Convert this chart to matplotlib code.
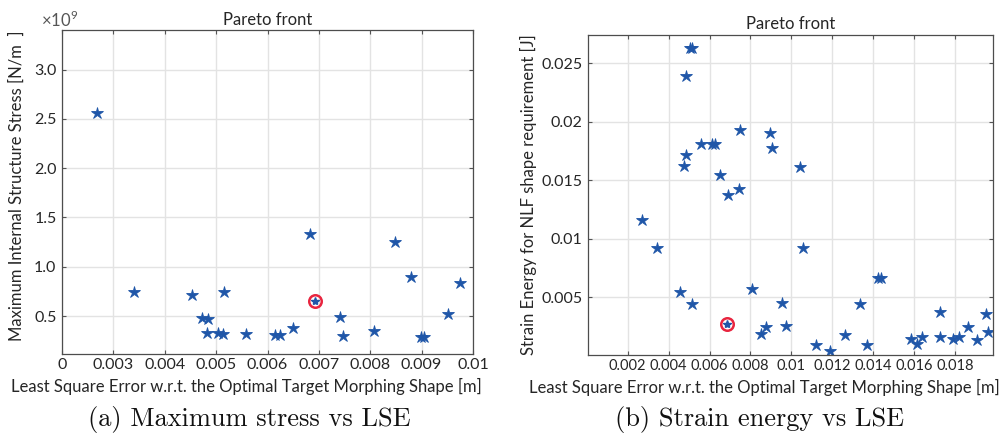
import numpy as np
import matplotlib.pyplot as plt
from matplotlib.ticker import FixedLocator, FixedFormatter

plt.rcParams['font.family'] = ['Lato', 'DejaVu Sans']
plt.rcParams['mathtext.fontset'] = 'custom'
plt.rcParams['mathtext.rm'] = 'Lato'

# (a) LSE [m] vs max stress [x1e9 N/m^2]
lse_a = [0.00268, 0.00340, 0.00454, 0.00472, 0.00485, 0.00483, 0.00504, 0.00513,
         0.00515, 0.00558, 0.00615, 0.00625, 0.00649, 0.00682, 0.00742, 0.00747,
         0.00807, 0.00848, 0.00879, 0.00898, 0.00904, 0.00951, 0.00975]
stress_a = [2.564, 0.747, 0.710, 0.476, 0.466, 0.324, 0.324, 0.318,
            0.740, 0.318, 0.307, 0.307, 0.378, 1.334, 0.486, 0.297,
            0.348, 1.253, 0.892, 0.290, 0.290, 0.524, 0.834]
sel_a = (0.00692, 0.652)

# (b) LSE [m] vs strain energy [J]
lse_b = [0.00268, 0.00342, 0.00454, 0.00514, 0.00474, 0.00487, 0.00483, 0.00506,
         0.00514, 0.00557, 0.00614, 0.00627, 0.00650, 0.00692, 0.00742, 0.00747,
         0.00807, 0.00850, 0.00878, 0.00897, 0.00905, 0.00952, 0.00975, 0.01044,
         0.01057, 0.01122, 0.01189, 0.01264, 0.01337, 0.01370, 0.01426, 0.01439,
         0.01583, 0.01612, 0.01640, 0.01728, 0.01728, 0.01788, 0.01818, 0.01863,
         0.01907, 0.01951, 0.01962]
energy_b = [0.01159, 0.00923, 0.00548, 0.00440, 0.01622, 0.01713, 0.02392, 0.02631,
            0.02631, 0.01813, 0.01810, 0.01810, 0.01548, 0.01378, 0.01426, 0.01932,
            0.00568, 0.00187, 0.00250, 0.01906, 0.01773, 0.00449, 0.00259, 0.01617,
            0.00923, 0.00097, 0.00040, 0.00182, 0.00443, 0.00097, 0.00662, 0.00662,
            0.00148, 0.00100, 0.00159, 0.00375, 0.00162, 0.00145, 0.00159, 0.00247,
            0.00134, 0.00355, 0.00207]
sel_b = (0.00684, 0.00273)

xticks_a = [0.002, 0.003, 0.004, 0.005, 0.006, 0.007, 0.008, 0.009, 0.010]
xlabels_a = ['0', '0.003', '0.004', '0.005', '0.006', '0.007', '0.008', '0.009', '0.01']
yticks_a = [0.5, 1.0, 1.5, 2.0, 2.5, 3.0]
ylabels_a = ['0.5', '1.0', '1.5', '2.0', '2.5', '3.0']
xticks_b = [0.002, 0.004, 0.006, 0.008, 0.010, 0.012, 0.014, 0.016, 0.018]
xlabels_b = ['0.002', '0.004', '0.006', '0.008', '0.01', '0.012', '0.014', '0.016', '0.018']
yticks_b = [0.005, 0.010, 0.015, 0.020, 0.025]
ylabels_b = ['0.005', '0.01', '0.015', '0.02', '0.025']

star_color = '#1f56a8'
ring_color = '#e8253f'
xlabel = 'Least Square Error w.r.t. the Optimal Target Morphing Shape [m]'

fig = plt.figure(figsize=(10, 4.43), dpi=100)
ax1 = fig.add_axes([0.062, 0.201, 0.411, 0.731])
ax2 = fig.add_axes([0.588, 0.199, 0.405, 0.722])


def style(ax, xt, xl, yt, yl):
    ax.xaxis.set_major_locator(FixedLocator(xt))
    ax.xaxis.set_major_formatter(FixedFormatter(xl))
    ax.yaxis.set_major_locator(FixedLocator(yt))
    ax.yaxis.set_major_formatter(FixedFormatter(yl))
    ax.grid(True, color='#e3e3e3', linewidth=1.0)
    ax.set_axisbelow(True)
    ax.tick_params(direction='in', length=3, width=0.8, colors='#555555',
                   labelcolor='#262626', labelsize=11.5, top=True, right=True)
    ax.tick_params(axis='x', pad=3)
    ax.tick_params(axis='y', pad=4)
    for s in ax.spines.values():
        s.set_color('#4d4d4d')
        s.set_linewidth(0.9)
    ax.set_title('Pareto front', fontsize=12, color='#262626', pad=4)


ax1.plot(lse_a, stress_a, linestyle='none', marker='*', markersize=9,
         color=star_color, markeredgewidth=0.6)
ax1.plot(*sel_a, linestyle='none', marker='o', markersize=9, markerfacecolor='none',
         markeredgecolor=ring_color, markeredgewidth=1.8)
ax1.plot(*sel_a, linestyle='none', marker='*', markersize=6, color=star_color)
ax1.set_xlim(0.002, 0.01)
ax1.set_ylim(0.115, 3.4)
style(ax1, xticks_a, xlabels_a, yticks_a, ylabels_a)
ax1.text(-0.005, 1.0, r'$\times10^{9}$', transform=ax1.transAxes, fontsize=12,
         color='#555555', ha='center', va='bottom')

ax2.plot(lse_b, energy_b, linestyle='none', marker='*', markersize=9,
         color=star_color, markeredgewidth=0.6)
ax2.plot(*sel_b, linestyle='none', marker='o', markersize=9, markerfacecolor='none',
         markeredgecolor=ring_color, markeredgewidth=1.8)
ax2.plot(*sel_b, linestyle='none', marker='*', markersize=6, color=star_color)
ax2.set_xlim(0.00006, 0.01986)
ax2.set_ylim(0.0001, 0.0274)
style(ax2, xticks_b, xlabels_b, yticks_b, ylabels_b)
ax2.tick_params(axis='x', labelsize=10.5)

fig.text(0.246, 0.128, xlabel, ha='center', va='center', fontsize=12, color='#262626')
fig.text(0.764, 0.126, xlabel, ha='center', va='center', fontsize=12, color='#262626')
fig.text(0.017, 0.58, 'Maximum Internal Structure Stress [N/m  ]', rotation=90,
         ha='center', va='center', fontsize=12, color='#262626')
fig.text(0.528, 0.56, 'Strain Energy for NLF shape requirement [J]', rotation=90,
         ha='center', va='center', fontsize=12, color='#262626')

fig.text(0.249, 0.052, '(a) Maximum stress vs LSE', ha='center', va='center',
         fontsize=19, family='cmr10', color='#111111')
fig.text(0.760, 0.052, '(b) Strain energy vs LSE', ha='center', va='center',
         fontsize=19, family='cmr10', color='#111111')

fig.savefig('out.png', dpi=100)
